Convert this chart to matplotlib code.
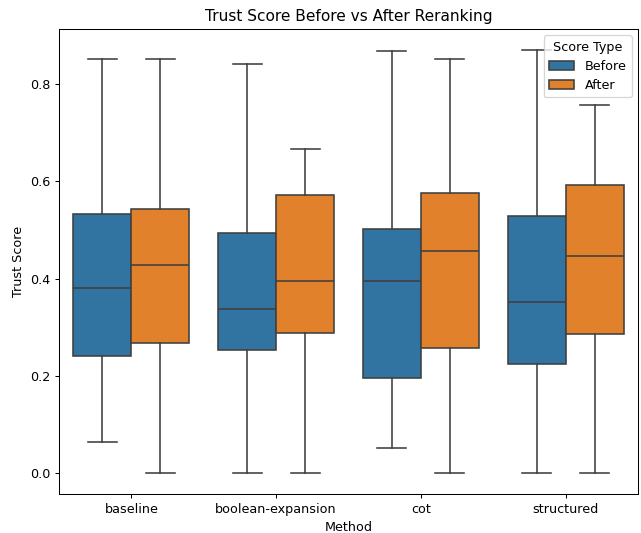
import matplotlib
matplotlib.use("Agg")
import matplotlib.pyplot as plt
import numpy as np
from matplotlib.patches import Patch

methods = ["baseline", "boolean-expansion", "cot", "structured"]
score_types = ["Before", "After"]

# five-number summaries per method, one list per score type
before_low = [0.063, 0.0, 0.051, 0.0]
before_q1 = [0.241, 0.252, 0.195, 0.224]
before_med = [0.381, 0.337, 0.394, 0.352]
before_q3 = [0.533, 0.493, 0.502, 0.529]
before_high = [0.851, 0.842, 0.868, 0.870]

after_low = [0.0, 0.0, 0.0, 0.0]
after_q1 = [0.268, 0.287, 0.258, 0.285]
after_med = [0.428, 0.394, 0.456, 0.447]
after_q3 = [0.543, 0.571, 0.576, 0.593]
after_high = [0.851, 0.666, 0.851, 0.757]

colors = {"Before": "#3274a1", "After": "#e1812c"}
line_c = (0.248, 0.248, 0.248)


def stats_for(low, q1, med, q3, high):
    return [dict(whislo=a, q1=b, med=c, q3=d, whishi=e, fliers=[])
            for a, b, c, d, e in zip(low, q1, med, q3, high)]


series = {
    "Before": stats_for(before_low, before_q1, before_med, before_q3, before_high),
    "After": stats_for(after_low, after_q1, after_med, after_q3, after_high),
}

DPI = 92
fig = plt.figure(figsize=(641 / DPI, 533 / DPI), dpi=DPI)
ax = fig.add_axes([59 / 641, 39 / 533, 579 / 641, 465 / 533])
x = np.arange(len(methods))
w = 0.4
for k, st in enumerate(score_types):
    pos = x + (k - 0.5) * w
    ax.bxp(series[st], positions=pos, widths=w, patch_artist=True,
           showfliers=False, capwidths=0.2,
           boxprops=dict(facecolor=colors[st], edgecolor=line_c, linewidth=1.25),
           whiskerprops=dict(color=line_c, linewidth=1.25),
           capprops=dict(color=line_c, linewidth=1.25),
           medianprops=dict(color=line_c, linewidth=1.25))

ax.set_xticks(x)
ax.set_xticklabels(methods)
ax.set_xlim(-0.5, len(methods) - 0.5)
ax.set_xlabel("Method")
ax.set_ylabel("Trust Score")
ax.set_title("Trust Score Before vs After Reranking")

handles = [Patch(facecolor=colors[s], edgecolor=line_c, linewidth=1.25, label=s)
           for s in score_types]
ax.legend(handles=handles, title="Score Type", loc="upper right")

fig.savefig("out.png", dpi=DPI)
